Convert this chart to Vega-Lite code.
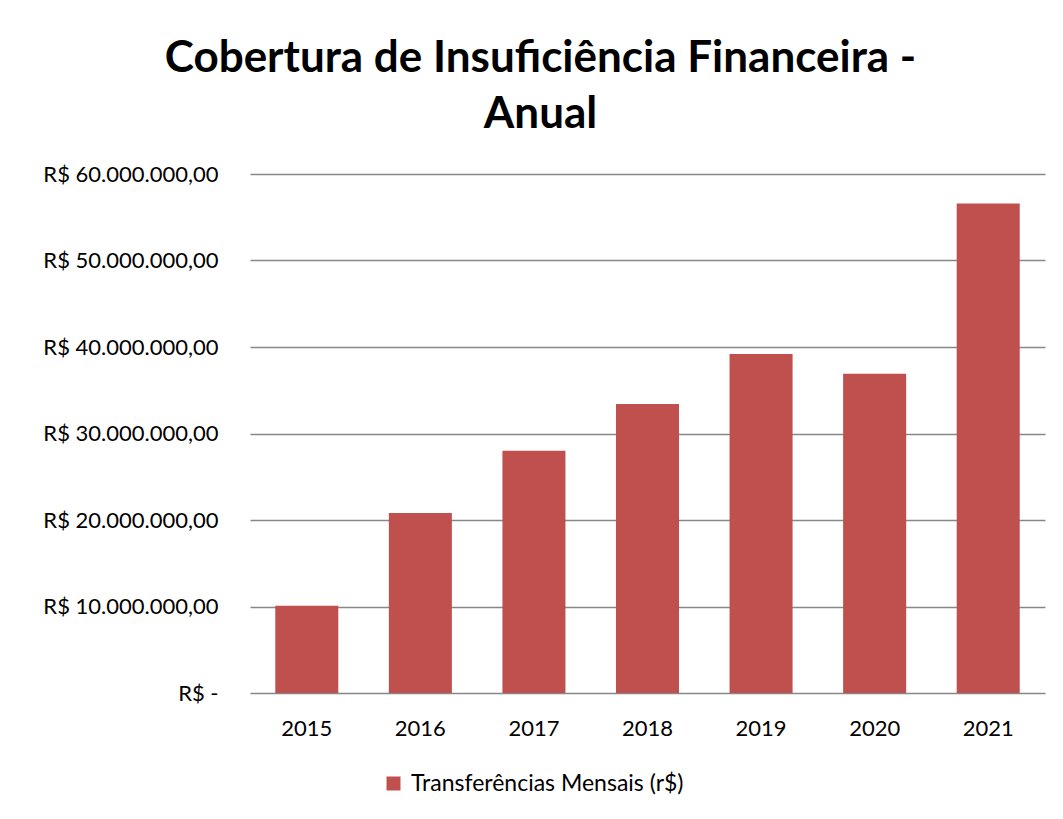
{
  "$schema": "https://vega.github.io/schema/vega-lite/v6.json",
  "autosize": "none",
  "width": 795,
  "height": 519,
  "padding": {"left": 250, "top": 174, "right": 18, "bottom": 126},
  "background": "white",
  "title": {
    "text": ["Cobertura de Insuficiência Financeira -", "Anual"],
    "font": "Lato",
    "fontSize": 44,
    "fontWeight": "bold",
    "color": "black",
    "anchor": "middle",
    "frame": "group",
    "dx": -107,
    "lineHeight": 56,
    "offset": 26
  },
  "data": {
    "values": [
      {"ano": "2015", "serie": "Transferências Mensais (r$)", "valor": 10100000},
      {"ano": "2016", "serie": "Transferências Mensais (r$)", "valor": 20800000},
      {"ano": "2017", "serie": "Transferências Mensais (r$)", "valor": 28000000},
      {"ano": "2018", "serie": "Transferências Mensais (r$)", "valor": 33400000},
      {"ano": "2019", "serie": "Transferências Mensais (r$)", "valor": 39200000},
      {"ano": "2020", "serie": "Transferências Mensais (r$)", "valor": 36900000},
      {"ano": "2021", "serie": "Transferências Mensais (r$)", "valor": 56600000}
    ]
  },
  "mark": {"type": "bar"},
  "encoding": {
    "x": {
      "field": "ano",
      "type": "nominal",
      "scale": {"paddingInner": 0.445, "paddingOuter": 0.2225},
      "axis": {
        "title": null,
        "labelAngle": 0,
        "labelFont": "Lato",
        "labelFontSize": 22,
        "labelColor": "black",
        "labelPadding": 25,
        "ticks": false,
        "domain": false,
        "grid": false
      }
    },
    "y": {
      "field": "valor",
      "type": "quantitative",
      "scale": {"domain": [0, 60000000], "nice": false},
      "axis": {
        "title": null,
        "values": [0, 10000000, 20000000, 30000000, 40000000, 50000000, 60000000],
        "labelExpr": "datum.value == 0 ? 'R$ -\u00a0\u00a0' : 'R$ ' + format(datum.value / 1000000, 'd') + '.000.000,00'",
        "labelFont": "Lato",
        "labelFontSize": 22,
        "labelColor": "black",
        "labelPadding": 32,
        "labelLimit": 0,
        "ticks": false,
        "domain": false,
        "grid": true,
        "gridColor": "#878787",
        "gridWidth": 1.6
      }
    },
    "color": {
      "field": "serie",
      "type": "nominal",
      "scale": {"range": ["#C0504D"]},
      "legend": {
        "title": null,
        "orient": "none",
        "legendX": 132,
        "legendY": 598,
        "symbolType": "square",
        "symbolSize": 196,
        "symbolStrokeWidth": 0,
        "labelFont": "Lato",
        "labelFontSize": 23,
        "labelColor": "black",
        "labelOffset": 6,
        "labelLimit": 0
      }
    }
  },
  "config": {
    "view": {"stroke": null}
  }
}
